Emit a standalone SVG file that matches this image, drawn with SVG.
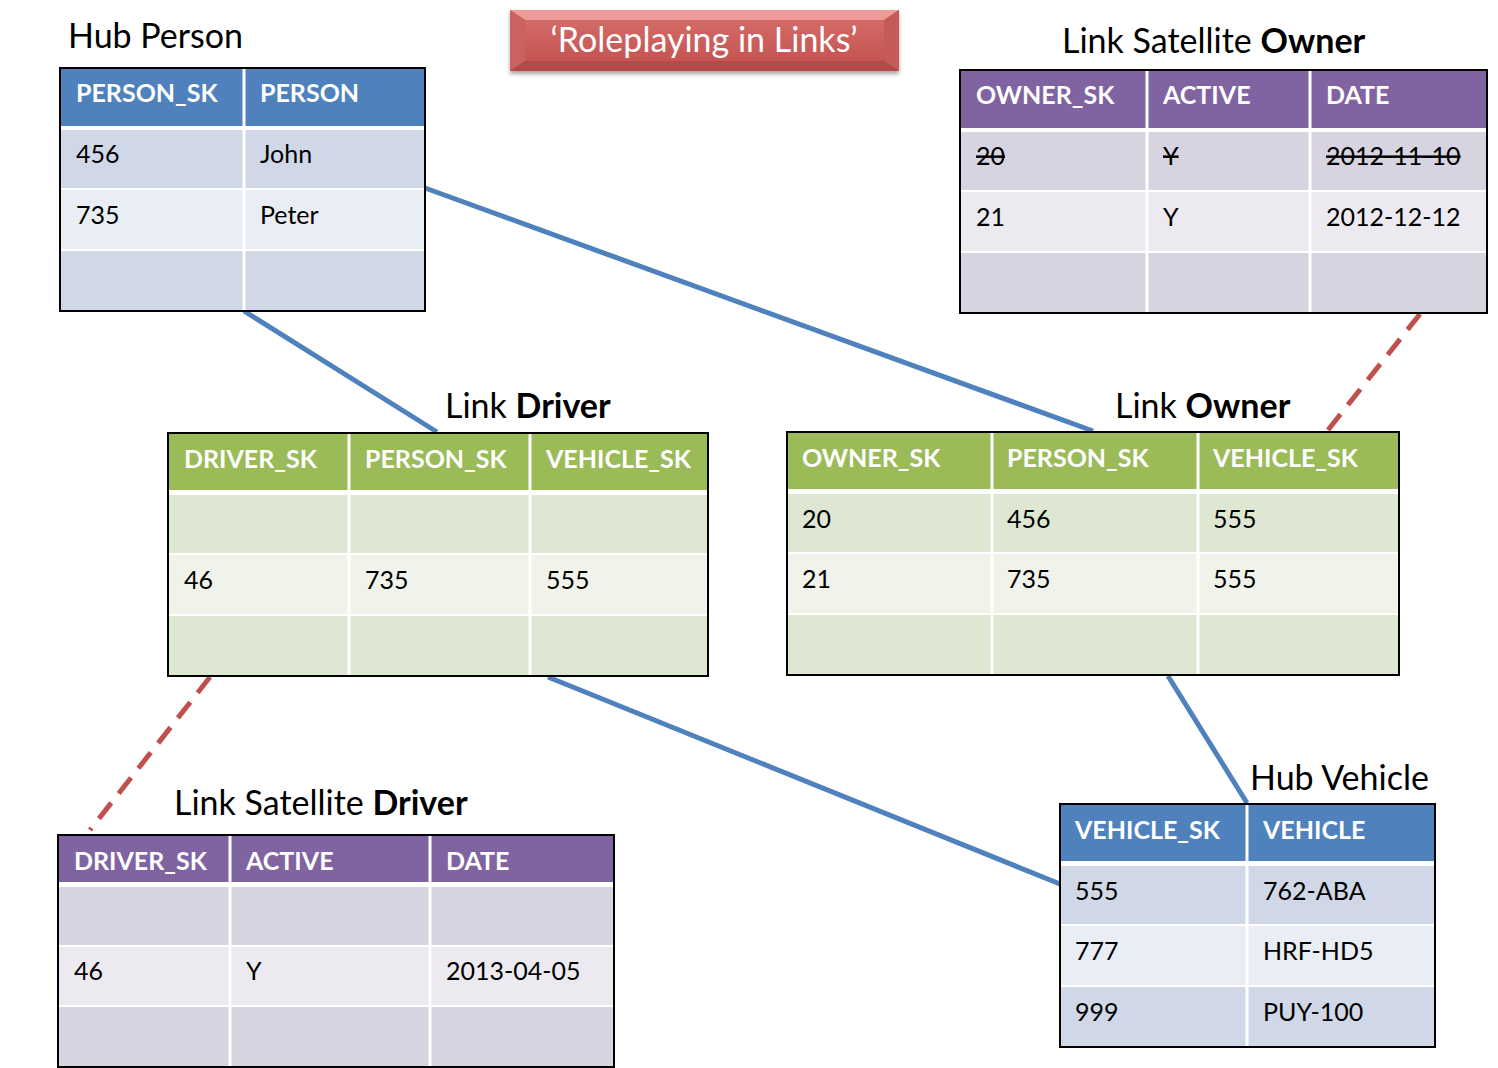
<svg xmlns="http://www.w3.org/2000/svg" width="1498" height="1068" viewBox="0 0 1498 1068">
<defs>
<style>
text{font-family:Lato,"Liberation Sans",sans-serif;}
.lbl{font-size:34px;fill:#000;}
.b{font-weight:bold;}
.hd{font-size:25px;font-weight:bold;fill:#fff;}
.c{font-size:25px;fill:#000;}
.st{text-decoration:line-through;}
.bd{fill:none;stroke:#000;stroke-width:2;}
.cl{stroke:#fff;stroke-width:3;}
.hb{fill:#4F81BD;}.h1{fill:#D0D8E8;}.h2{fill:#E9EDF4;}
.sp{fill:#8064A2;}.s1{fill:#D8D3E1;}.s2{fill:#ECEAF0;}
.lg{fill:#9BBB59;}.l1{fill:#DEE7D1;}.l2{fill:#EFF3EA;}
.con{stroke:#4F81BD;stroke-width:5;fill:none;}
.sat{stroke:#C0504D;stroke-width:5;fill:none;stroke-dasharray:20 12;}
</style>
<linearGradient id="tg" x1="0" y1="0" x2="0" y2="1">
<stop offset="0" stop-color="#D86F6C"/><stop offset="1" stop-color="#C0504D"/>
</linearGradient>
<filter id="sh" x="-5%" y="-20%" width="110%" height="150%">
<feDropShadow dx="0" dy="3" stdDeviation="2" flood-color="#000" flood-opacity="0.35"/>
</filter>
</defs>
<rect width="1498" height="1068" fill="#fff"/>

<g id="connectors">
<line class="con" x1="244" y1="311" x2="437" y2="432"/>
<line class="con" x1="425" y1="188" x2="1093" y2="431"/>
<line class="con" x1="548" y1="677" x2="1060" y2="884"/>
<line class="con" x1="1168" y1="676" x2="1247" y2="803"/>
<line class="sat" x1="1420" y1="314" x2="1328" y2="430"/>
<line class="sat" x1="210" y1="677" x2="90" y2="830"/>
</g>

<g id="title">
<g filter="url(#sh)">
<rect x="510" y="10" width="389" height="61" fill="url(#tg)"/>
</g>
<polygon points="510,10 899,10 884,20 525,20" fill="#EE9A98"/>
<polygon points="510,10 525,20 525,61 510,71" fill="#CB625F"/>
<polygon points="899,10 884,20 884,61 899,71" fill="#C65A57"/>
<polygon points="510,71 525,61 884,61 899,71" fill="#B44A47"/>
<text x="704" y="52" text-anchor="middle" style="font-size:34px;fill:#fff;">‘Roleplaying in Links’</text>
</g>

<g id="hub-person">
<text class="lbl" x="68" y="48">Hub Person</text>
<rect x="60" y="68" width="365" height="243" fill="#fff"/>
<rect class="hb" x="60" y="68" width="365" height="58"/>
<rect class="h1" x="60" y="130" width="365" height="58"/>
<rect class="h2" x="60" y="190" width="365" height="59"/>
<rect class="h1" x="60" y="251" width="365" height="60"/>
<line class="cl" x1="244" y1="68" x2="244" y2="311"/>
<text class="hd" x="76" y="102">PERSON_SK</text>
<text class="hd" x="260" y="102">PERSON</text>
<text class="c" x="76" y="163">456</text>
<text class="c" x="260" y="163">John</text>
<text class="c" x="76" y="224">735</text>
<text class="c" x="260" y="224">Peter</text>
<rect class="bd" x="60" y="68" width="365" height="243"/>
</g>

<g id="link-satellite-owner">
<text class="lbl" x="1062" y="53">Link Satellite <tspan class="b">Owner</tspan></text>
<rect x="960" y="70" width="527" height="243" fill="#fff"/>
<rect class="sp" x="960" y="70" width="527" height="58"/>
<rect class="s1" x="960" y="132" width="527" height="58"/>
<rect class="s2" x="960" y="192" width="527" height="59"/>
<rect class="s1" x="960" y="253" width="527" height="60"/>
<line class="cl" x1="1147" y1="70" x2="1147" y2="313"/>
<line class="cl" x1="1310" y1="70" x2="1310" y2="313"/>
<text class="hd" x="976" y="104">OWNER_SK</text>
<text class="hd" x="1163" y="104">ACTIVE</text>
<text class="hd" x="1326" y="104">DATE</text>
<text class="c st" x="976" y="165">20</text>
<text class="c st" x="1163" y="165">Y</text>
<text class="c st" x="1326" y="165">2012-11-10</text>
<text class="c" x="976" y="226">21</text>
<text class="c" x="1163" y="226">Y</text>
<text class="c" x="1326" y="226">2012-12-12</text>
<rect class="bd" x="960" y="70" width="527" height="243"/>
</g>

<g id="link-driver">
<text class="lbl" x="445" y="418">Link <tspan class="b">Driver</tspan></text>
<rect x="168" y="433" width="540" height="243" fill="#fff"/>
<rect class="lg" x="168" y="433" width="540" height="57"/>
<rect class="l1" x="168" y="495" width="540" height="58"/>
<rect class="l2" x="168" y="555" width="540" height="59"/>
<rect class="l1" x="168" y="616" width="540" height="60"/>
<line class="cl" x1="349" y1="433" x2="349" y2="676"/>
<line class="cl" x1="530" y1="433" x2="530" y2="676"/>
<text class="hd" x="184" y="468">DRIVER_SK</text>
<text class="hd" x="365" y="468">PERSON_SK</text>
<text class="hd" x="546" y="468">VEHICLE_SK</text>
<text class="c" x="184" y="589">46</text>
<text class="c" x="365" y="589">735</text>
<text class="c" x="546" y="589">555</text>
<rect class="bd" x="168" y="433" width="540" height="243"/>
</g>

<g id="link-owner">
<text class="lbl" x="1115" y="418">Link <tspan class="b">Owner</tspan></text>
<rect x="787" y="432" width="612" height="243" fill="#fff"/>
<rect class="lg" x="787" y="432" width="612" height="57"/>
<rect class="l1" x="787" y="494" width="612" height="58"/>
<rect class="l2" x="787" y="554" width="612" height="59"/>
<rect class="l1" x="787" y="615" width="612" height="60"/>
<line class="cl" x1="992" y1="432" x2="992" y2="675"/>
<line class="cl" x1="1198" y1="432" x2="1198" y2="675"/>
<text class="hd" x="802" y="467">OWNER_SK</text>
<text class="hd" x="1007" y="467">PERSON_SK</text>
<text class="hd" x="1213" y="467">VEHICLE_SK</text>
<text class="c" x="802" y="528">20</text>
<text class="c" x="1007" y="528">456</text>
<text class="c" x="1213" y="528">555</text>
<text class="c" x="802" y="588">21</text>
<text class="c" x="1007" y="588">735</text>
<text class="c" x="1213" y="588">555</text>
<rect class="bd" x="787" y="432" width="612" height="243"/>
</g>

<g id="link-satellite-driver">
<text class="lbl" x="174" y="815">Link Satellite <tspan class="b">Driver</tspan></text>
<rect x="58" y="835" width="556" height="232" fill="#fff"/>
<rect class="sp" x="58" y="835" width="556" height="47"/>
<rect class="s1" x="58" y="887" width="556" height="58"/>
<rect class="s2" x="58" y="947" width="556" height="58"/>
<rect class="s1" x="58" y="1007" width="556" height="60"/>
<line class="cl" x1="230" y1="835" x2="230" y2="1067"/>
<line class="cl" x1="430" y1="835" x2="430" y2="1067"/>
<text class="hd" x="74" y="870">DRIVER_SK</text>
<text class="hd" x="246" y="870">ACTIVE</text>
<text class="hd" x="446" y="870">DATE</text>
<text class="c" x="74" y="980">46</text>
<text class="c" x="246" y="980">Y</text>
<text class="c" x="446" y="980">2013-04-05</text>
<rect class="bd" x="58" y="835" width="556" height="232"/>
</g>

<g id="hub-vehicle">
<text class="lbl" x="1250" y="790">Hub Vehicle</text>
<rect x="1060" y="804" width="375" height="243" fill="#fff"/>
<rect class="hb" x="1060" y="804" width="375" height="57"/>
<rect class="h1" x="1060" y="866" width="375" height="58"/>
<rect class="h2" x="1060" y="926" width="375" height="59"/>
<rect class="h1" x="1060" y="987" width="375" height="60"/>
<line class="cl" x1="1247" y1="804" x2="1247" y2="1047"/>
<text class="hd" x="1075" y="839">VEHICLE_SK</text>
<text class="hd" x="1263" y="839">VEHICLE</text>
<text class="c" x="1075" y="900">555</text>
<text class="c" x="1263" y="900">762-ABA</text>
<text class="c" x="1075" y="960">777</text>
<text class="c" x="1263" y="960">HRF-HD5</text>
<text class="c" x="1075" y="1021">999</text>
<text class="c" x="1263" y="1021">PUY-100</text>
<rect class="bd" x="1060" y="804" width="375" height="243"/>
</g>
</svg>
